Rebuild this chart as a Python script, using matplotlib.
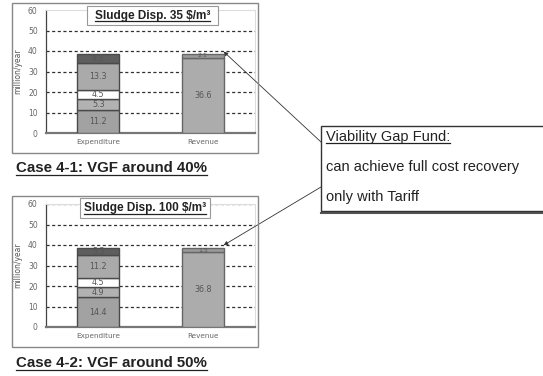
import matplotlib
matplotlib.use("Agg")
import matplotlib.pyplot as plt
from matplotlib.patches import Rectangle, ConnectionPatch

W, H = 543, 376

categories = ["Expenditure", "Revenue"]
y_ticks = [0, 10, 20, 30, 40, 50, 60]

# Case 4-1 (sludge disposal 35 $/m3)
exp_41 = [11.2, 5.3, 4.5, 13.3, 4.3]
exp_41_labels = ["11.2", "5.3", "4.5", "13.3", "4.3"]
rev_41 = [36.6, 2.1]
rev_41_labels = ["36.6", "2.1"]

# Case 4-2 (sludge disposal 100 $/m3)
exp_42 = [14.4, 4.9, 4.5, 11.2, 3.3]
exp_42_labels = ["14.4", "4.9", "4.5", "11.2", "3.3"]
rev_42 = [36.8, 1.5]
rev_42_labels = ["36.8", "1.5"]

seg_colors = ["#a2a2a2", "#b2b2b2", "#ffffff", "#aaaaaa", "#5e5e5e"]
rev_colors = ["#acacac", "#9a9a9a"]

FONT = "Liberation Sans"

fig = plt.figure(figsize=(W / 100, H / 100), dpi=100)
fig.patch.set_facecolor("white")
renderer = fig.canvas.get_renderer()


def px_rect(x0, y0, x1, y1):
    return [x0 / W, 1 - y1 / H, (x1 - x0) / W, (y1 - y0) / H]


def frame(x0, y0, x1, y1, zorder=1, **kw):
    fig.patches.append(Rectangle((x0 / W, 1 - y1 / H), (x1 - x0) / W, (y1 - y0) / H,
                                 transform=fig.transFigure, zorder=zorder, **kw))


def hline_px(x0, x1, y, **kw):
    fig.lines.append(plt.Line2D([x0 / W, x1 / W], [1 - y / H] * 2,
                                transform=fig.transFigure, **kw))


def text_px(x, y, txt, underline=False, ul_gap=2.0, **kw):
    t = fig.text(x / W, 1 - y / H, txt, parse_math=False, family=FONT, color="#222222", **kw)
    if underline:
        bb = t.get_window_extent(renderer)
        hline_px(bb.x0, bb.x1, y + ul_gap, color="#222222", lw=0.9,
                 zorder=kw.get("zorder", 3) + 1)
    return t


def draw_chart(ax, exp_vals, exp_labels, rev_vals, rev_labels, grid_levels):
    ax.set_xlim(-0.5, 1.5)
    ax.set_ylim(0, 60)
    for g in grid_levels:
        ax.axhline(g, color="#303030", lw=0.9, ls=(0, (2.5, 2)), zorder=1)
    bottom = 0
    for v, lab, c in zip(exp_vals, exp_labels, seg_colors):
        ax.bar(0, v, bottom=bottom, width=0.4, color=c, edgecolor="#4a4a4a", lw=1.0, zorder=3)
        ax.text(0, bottom + v / 2, lab, ha="center", va="center", fontsize=5.8,
                color="#555555", zorder=4)
        bottom += v
    bottom = 0
    for v, lab, c in zip(rev_vals, rev_labels, rev_colors):
        ax.bar(1, v, bottom=bottom, width=0.4, color=c, edgecolor="#666666", lw=1.0, zorder=3)
        ax.text(1, bottom + v / 2, lab, ha="center", va="center",
                fontsize=5.8 if v > 3 else 4.5, color="#555555", zorder=4)
        bottom += v
    ax.set_xticks([0, 1])
    ax.set_xticklabels(categories, fontsize=5.2, color="#666666")
    ax.set_yticks(y_ticks)
    ax.set_yticklabels([str(t) for t in y_ticks], fontsize=5.5, color="#666666")
    ax.tick_params(axis="both", length=0, pad=6)
    ax.tick_params(axis="x", pad=4)
    ax.set_ylabel("million/year", fontsize=5.5, color="#555555")
    ax.yaxis.set_label_coords(-0.115, 0.5)
    for s in ["top", "right"]:
        ax.spines[s].set_color("#dddddd")
        ax.spines[s].set_linewidth(0.8)
    ax.spines["left"].set_color("#444444")
    ax.spines["left"].set_linewidth(0.9)
    ax.spines["bottom"].set_color("#777777")
    ax.spines["bottom"].set_linewidth(1.6)


# top chart
frame(12, 3, 258, 153, fill=False, edgecolor="#888888", lw=1.0)
ax1 = fig.add_axes(px_rect(46, 10, 255, 133))
draw_chart(ax1, exp_41, exp_41_labels, rev_41, rev_41_labels, [10, 20, 30, 40, 50])

# bottom chart
frame(12, 196, 258, 347, fill=False, edgecolor="#888888", lw=1.0)
ax2 = fig.add_axes(px_rect(46, 204, 255, 327))
draw_chart(ax2, exp_42, exp_42_labels, rev_42, rev_42_labels, [10, 20, 30, 40, 50, 60])

# scenario title boxes
for (x0, y0, x1, y1, txt) in [(87, 6, 218, 25, "Sludge Disp. 35 $/m\u00b3"),
                              (80, 198, 210, 218, "Sludge Disp. 100 $/m\u00b3")]:
    frame(x0, y0, x1, y1, zorder=5, facecolor="white", edgecolor="#999999", lw=0.8)
    text_px((x0 + x1) / 2, (y0 + y1) / 2 + 3.5, txt, underline=True, ul_gap=2.0,
            ha="center", va="baseline", fontsize=8.5, fontweight="bold", zorder=6)

# case captions
text_px(16, 172, "Case 4-1: VGF around 40%", underline=True, ul_gap=2.5,
        ha="left", va="baseline", fontsize=10.8, fontweight="bold", zorder=3)
text_px(16, 367, "Case 4-2: VGF around 50%", underline=True, ul_gap=2.5,
        ha="left", va="baseline", fontsize=10.8, fontweight="bold", zorder=3)

# callout box
frame(321, 126, 560, 211, zorder=5, facecolor="white", edgecolor="#333333", lw=1.0)
hline_px(321, 543, 212.5, color="#555555", lw=1.5, zorder=5)
text_px(326, 141, "Viability Gap Fund:", underline=True, ul_gap=2.0,
        fontsize=10.5, va="baseline", zorder=6)
text_px(326, 171, "can achieve full cost recovery", fontsize=10.5, va="baseline", zorder=6)
text_px(326, 201, "only with Tariff", fontsize=10.5, va="baseline", zorder=6)

# leader arrows from callout to revenue bars
for ax, ystart, ytip in [(ax1, 142, sum(rev_41) + 1.0), (ax2, 187, sum(rev_42) + 1.6)]:
    con = ConnectionPatch(xyA=(321, H - ystart), coordsA="figure pixels",
                          xyB=(1.2, ytip), coordsB=ax.transData,
                          arrowstyle="-|>", mutation_scale=6, color="#333333", lw=0.6)
    fig.add_artist(con)

fig.savefig("out.png", dpi=100)
